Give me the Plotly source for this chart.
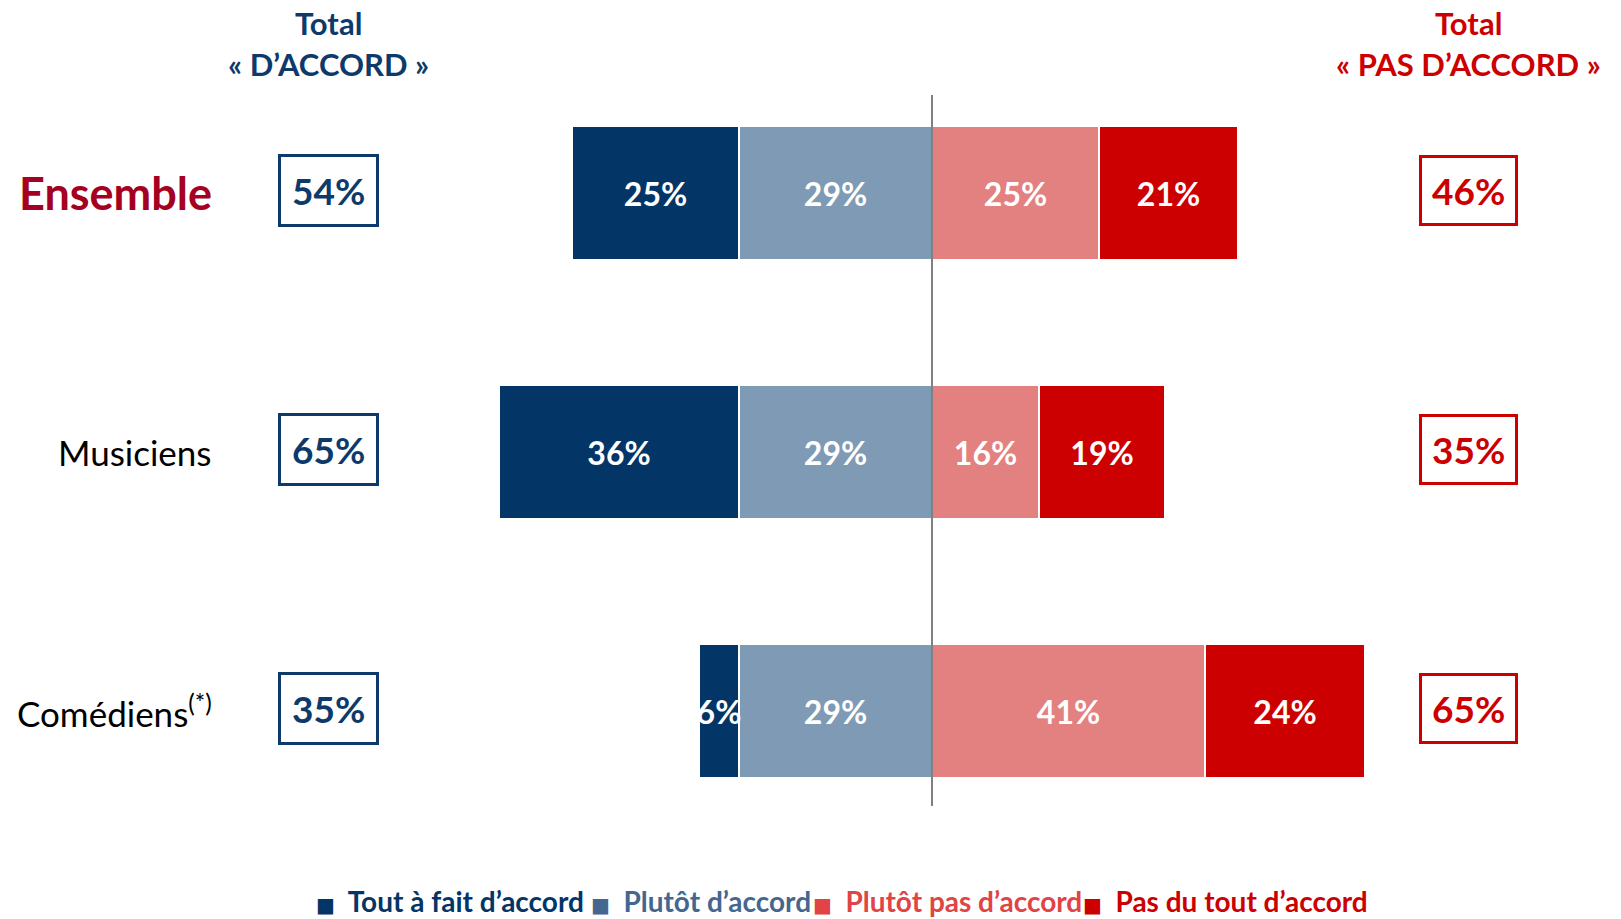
import plotly.graph_objects as go

# groupes et réponses (en %)
categories = ["Ensemble", "Musiciens", "Comédiens"]
row_labels = ["<b>Ensemble</b>", "Musiciens", "Comédiens<sup>(*)</sup>"]
tout_a_fait = [25, 36, 6]
plutot = [29, 29, 29]
plutot_pas = [25, 16, 41]
pas_du_tout = [21, 19, 24]
total_accord = [54, 65, 35]
total_pas_accord = [46, 35, 65]
legend_names = ["Tout à fait d’accord", "Plutôt d’accord", "Plutôt pas d’accord", "Pas du tout d’accord"]

NAVY = "#033567"
GREYBLUE = "#7F9AB4"
PINK = "#E38080"
RED = "#CC0000"
HEAD_BLUE = "#0D3A6B"
FONT = "Lato, Open Sans, sans-serif"

W, H = 1621, 919
zero_px = 932
px_per_pct = 6.66

fig = go.Figure()

def add_bar(vals, sign, color, name):
    fig.add_trace(go.Bar(
        y=categories,
        x=[sign * v for v in vals],
        orientation="h",
        name=name,
        marker=dict(color=color, line=dict(color="white", width=2)),
        width=0.52,
        text=[f"{v}%" for v in vals],
        texttemplate="<b>%{text}</b>",
        textposition="inside",
        insidetextanchor="middle",
        constraintext="none",
        textangle=0,
        textfont=dict(family=FONT, size=32, color="white"),
        showlegend=False,
        hoverinfo="skip",
    ))

# les barres négatives s'empilent depuis zéro : « plutôt » d'abord
add_bar(plutot, -1, GREYBLUE, legend_names[1])
add_bar(tout_a_fait, -1, NAVY, legend_names[0])
add_bar(plutot_pas, 1, PINK, legend_names[2])
add_bar(pas_du_tout, 1, RED, legend_names[3])

# ligne centrale
fig.add_shape(type="line", x0=0, x1=0, xref="x", y0=1 - 806 / H, y1=1 - 95 / H,
              yref="paper", line=dict(color="#808080", width=2), layer="above")

ann = []
# en-têtes
for xc, col, line2 in [(328, HEAD_BLUE, "« D’ACCORD »"), (1468, RED, "« PAS D’ACCORD »")]:
    ann.append(dict(text="<b>Total</b>", x=xc / W, y=1 - 23 / H, xref="paper", yref="paper",
                    xanchor="center", yanchor="middle", showarrow=False,
                    font=dict(family=FONT, size=31, color=col)))
    ann.append(dict(text=f"<b>{line2}</b>", x=xc / W, y=1 - 64 / H, xref="paper", yref="paper",
                    xanchor="center", yanchor="middle", showarrow=False,
                    font=dict(family=FONT, size=31, color=col)))

for i, cat in enumerate(categories):
    if i == 0:
        lab_font = dict(family=FONT, size=45, color="#A50021")
    else:
        lab_font = dict(family=FONT, size=35, color="black")
    ann.append(dict(text=row_labels[i], x=214 / W, y=cat, xref="paper", yref="y",
                    xanchor="right", yanchor="middle", showarrow=False, font=lab_font))
    ann.append(dict(text=f"<b>{total_accord[i]}%</b>", x=328 / W, y=cat,
                    xref="paper", yref="y", xanchor="center", yanchor="middle",
                    showarrow=False, yshift=3,
                    bordercolor=HEAD_BLUE, borderwidth=3, borderpad=11,
                    font=dict(family=FONT, size=37, color=HEAD_BLUE)))
    ann.append(dict(text=f"<b>{total_pas_accord[i]}%</b>", x=1468 / W, y=cat,
                    xref="paper", yref="y", xanchor="center", yanchor="middle",
                    showarrow=False, yshift=3,
                    bordercolor=RED, borderwidth=3, borderpad=10,
                    font=dict(family=FONT, size=37, color=RED)))

# légende en bas (couleurs de texte propres à chaque modalité)
legend_colors = [NAVY, "#44678F", "#E04444", RED]
legend_x = [314, 589, 811, 1081]
for name, col, lx in zip(legend_names, legend_colors, legend_x):
    ann.append(dict(text=f"<span style='font-family:DejaVu Sans;font-size:20px'>■</span>"
                         f"<b>  {name}</b>",
                    x=lx / W, y=1 - 901 / H, xref="paper", yref="paper",
                    xanchor="left", yanchor="middle", showarrow=False,
                    font=dict(family=FONT, size=28, color=col)))

fig.update_layout(
    width=W, height=H,
    barmode="relative",
    bargap=0,
    plot_bgcolor="white", paper_bgcolor="white",
    margin=dict(l=0, r=0, t=0, b=0),
    xaxis=dict(range=[-zero_px / px_per_pct, (W - zero_px) / px_per_pct],
               visible=False, fixedrange=True),
    yaxis=dict(range=[2 + (H - 711) / 259, -193 / 259], visible=False,
               type="category", fixedrange=True),
    showlegend=False,
    annotations=ann,
)

fig.write_html("out.html", config={"displayModeBar": False},
               post_script="document.body.style.margin='0';")
